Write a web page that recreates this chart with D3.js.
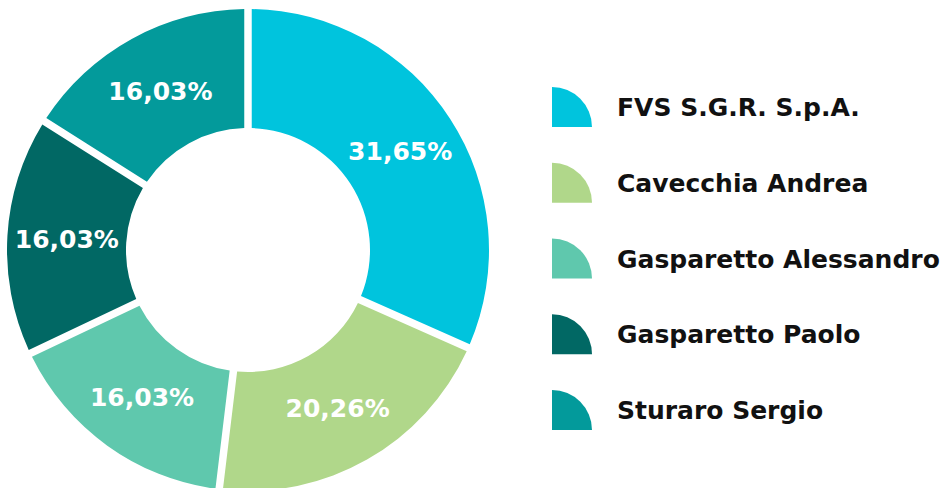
<!doctype html>
<html>
<head>
<meta charset="utf-8"/>
<script src="https://cdnjs.cloudflare.com/ajax/libs/d3/7.8.5/d3.min.js"></script>
<style>
  body { margin: 0; background: #fff; }
  text { font-family: "DejaVu Sans", sans-serif; font-weight: bold; }
</style>
</head>
<body>
<svg width="947" height="488"></svg>
<script>
// data
var names = ["FVS S.G.R. S.p.A.", "Cavecchia Andrea", "Gasparetto Alessandro", "Gasparetto Paolo", "Sturaro Sergio"]
var shares = [31.65, 20.26, 16.03, 16.03, 16.03]
var colors = ["#00c4dd", "#b0d78a", "#5fc8ad", "#016864", "#039a9b"]

var svg = d3.select("svg")

var cx = 248, cy = 250, rOut = 241, rIn = 122

var pie = d3.pie().sort(null).value(d => d)
var arc = d3.arc().innerRadius(rIn).outerRadius(rOut)
  .padAngle(0.075).padRadius(100)
var labelArc = d3.arc().innerRadius(rIn).outerRadius(rOut)

var fmt = v => d3.format(".2f")(v).replace(".", ",") + "%"

var g = svg.append("g").attr("transform", `translate(${cx},${cy})`)

var slices = g.selectAll("g.slice")
  .data(pie(shares))
  .enter().append("g").attr("class", "slice")

slices.append("path")
  .attr("d", arc)
  .attr("fill", (d, i) => colors[i])

slices.append("text")
  .attr("transform", d => `translate(${labelArc.centroid(d)})`)
  .attr("text-anchor", "middle")
  .attr("dy", "0.36em")
  .attr("fill", "#fff")
  .style("font-size", "25px")
  .text(d => fmt(d.data))

// legend
var y = d3.scalePoint().domain(names).range([107, 410])

var leg = svg.selectAll("g.leg")
  .data(names)
  .enter().append("g").attr("class", "leg")
  .attr("transform", d => `translate(552,${y(d)})`)

// quarter-disc swatch
var quarter = d3.arc().innerRadius(0).outerRadius(40).startAngle(0).endAngle(Math.PI / 2)
leg.append("path")
  .attr("transform", "translate(0,20)")
  .attr("d", quarter)
  .attr("fill", (d, i) => colors[i])

leg.append("text")
  .attr("x", 65)
  .attr("dy", "0.36em")
  .attr("fill", "#111")
  .style("font-size", "25px")
  .text(d => d)
</script>
</body>
</html>
